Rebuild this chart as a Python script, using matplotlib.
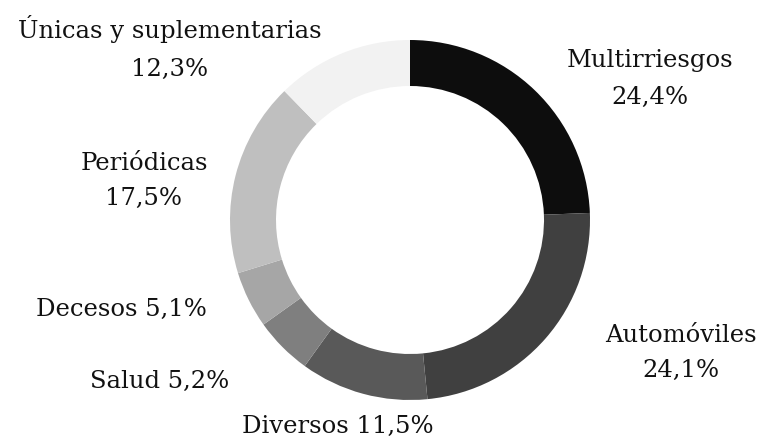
import matplotlib.pyplot as plt

# Data
categories = ['Multirriesgos', 'Automóviles', 'Diversos', 'Salud', 'Decesos',
              'Periódicas', 'Únicas y suplementarias']
shares = [24.4, 24.1, 11.5, 5.2, 5.1, 17.5, 12.3]
colors = ['#0d0d0d', '#404040', '#595959', '#7f7f7f', '#a6a6a6', '#bfbfbf', '#f2f2f2']

# label centre x and line baselines (pixels, y from top); one baseline = single line
label_pos = [(650, [67, 104]), (681, [342, 377]), (338, [433]), (160, [388]),
             (121, [316]), (144, [170, 205]), (170, [38, 76])]

W, H = 767, 438
fig = plt.figure(figsize=(W / 100, H / 100), dpi=100)
ax = fig.add_axes([0, 0, 1, 1])

ax.pie(shares, colors=colors, startangle=90, counterclock=False,
       radius=180, center=(410, H - 220),
       wedgeprops=dict(width=46, linewidth=0))

def fmt(v):
    return f'{v:.1f}'.replace('.', ',') + '%'

for name, val, (x, baselines) in zip(categories, shares, label_pos):
    if len(baselines) == 2:
        lines = [name, fmt(val)]
    else:
        lines = [f'{name} {fmt(val)}']
    for line, y in zip(lines, baselines):
        ax.text(x, H - y, line, ha='center', va='baseline', fontsize=17.5,
                family='DejaVu Serif', color='#111111')

ax.set_xlim(0, W)
ax.set_ylim(0, H)
ax.axis('off')

plt.savefig('out.png', dpi=100)
